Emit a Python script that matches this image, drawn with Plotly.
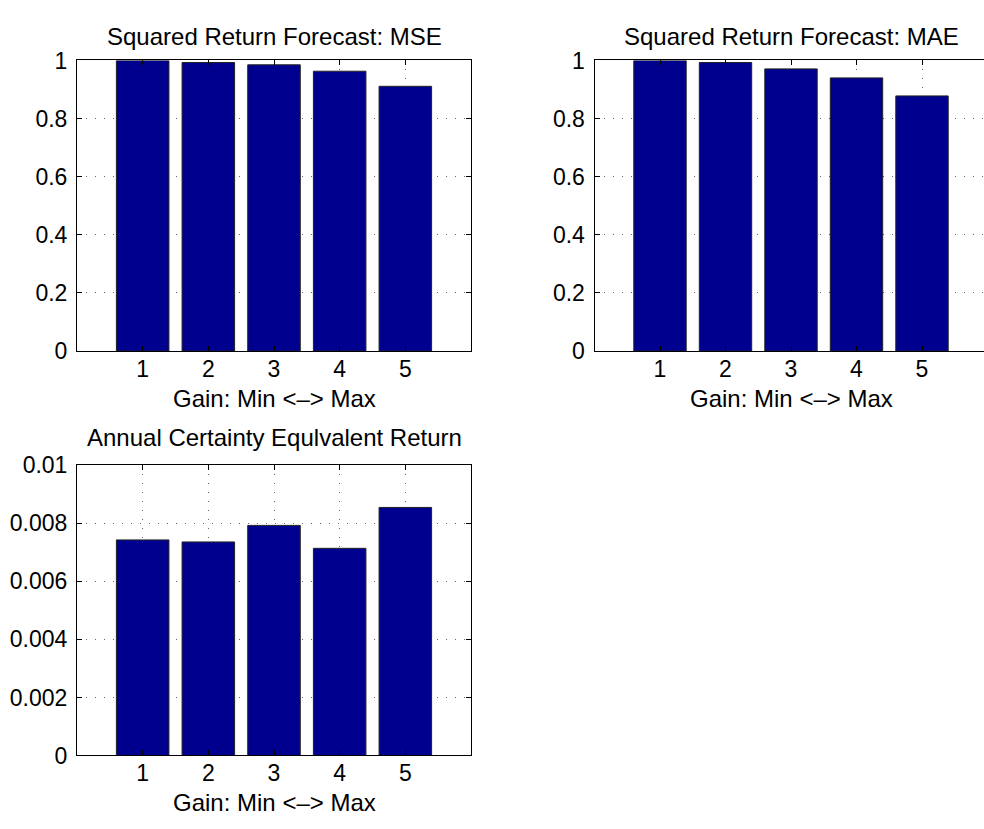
import plotly.graph_objects as go

# ---- data ----
gains = [1, 2, 3, 4, 5]
gain_ticks = ["1", "2", "3", "4", "5"]
mse = [1.000, 0.993, 0.985, 0.963, 0.911]
mae = [1.000, 0.993, 0.971, 0.940, 0.878]
ace = [0.00743, 0.00736, 0.00793, 0.00714, 0.00855]

titles = ["Squared Return Forecast: MSE",
          "Squared Return Forecast: MAE",
          "Annual Certainty Equlvalent Return"]
xlabel = "Gain: Min <\u2013> Max"

W, H = 984, 829
FONT = "Liberation Sans, Arial, Helvetica, sans-serif"
FS = 24
TFS = 23
BAR = "#00008F"


def fx(x):
    return x / W


def fy(y):
    return 1 - y / H


fig = go.Figure()
for i, vals in enumerate([mse, mae, ace]):
    sfx = "" if i == 0 else str(i + 1)
    fig.add_trace(go.Bar(
        x=gains, y=vals, width=0.8,
        marker=dict(color=BAR, line=dict(color="#222222", width=1)),
        xaxis="x" + sfx, yaxis="y" + sfx, showlegend=False,
    ))

common = dict(
    showline=True, linecolor="black", linewidth=1,
    ticks="inside", ticklen=5, tickcolor="black", tickwidth=1,
    showgrid=True, gridcolor="rgba(0,0,0,0.6)", griddash="1px,8px", gridwidth=1,
    zeroline=False, tickfont=dict(family=FONT, size=TFS, color="black"),
)

unit = 65.5  # px per x unit
left1, right1 = 77, 471
left2 = 594.5
top1, bot1 = 49, 349
top3, bot3 = 467, 766.5

xcommon = dict(common, tickmode="array", tickvals=gains, ticktext=gain_ticks,
               ticklabelstandoff=-3, mirror="ticks")

fig.update_layout(
    width=W, height=H,
    margin=dict(l=0, r=0, t=0, b=0),
    paper_bgcolor="white", plot_bgcolor="white",
    font=dict(family=FONT, size=FS, color="black"),
    xaxis=dict(xcommon, domain=[fx(left1), fx(right1)], range=[0, 6], anchor="y"),
    yaxis=dict(common, domain=[fy(bot1), fy(top1)], range=[0, 1], dtick=0.2,
               anchor="x", mirror="ticks", ticklabelstandoff=4),
    xaxis2=dict(xcommon, domain=[fx(left2), 1.0],
                range=[0, (W - left2) / unit], anchor="y2"),
    yaxis2=dict(common, domain=[fy(bot1), fy(top1)], range=[0, 1], dtick=0.2,
                anchor="x2", mirror=False, ticklabelstandoff=4),
    xaxis3=dict(xcommon, domain=[fx(left1), fx(right1)], range=[0, 6], anchor="y3"),
    yaxis3=dict(common, domain=[fy(bot3), fy(top3)], range=[0, 0.01], dtick=0.002,
                anchor="x3", mirror="ticks", ticklabelstandoff=4),
)

c1 = (left1 + right1) / 2
c2 = left2 + 3 * unit
ann = [
    (titles[0], c1, 24), (titles[1], c2, 24), (titles[2], c1, 438),
    (xlabel, c1, 398), (xlabel, c2, 398), (xlabel, c1, 815),
]
for txt, x, y in ann:
    fig.add_annotation(text=txt, x=fx(x), y=fy(y), xref="paper", yref="paper",
                       xanchor="center", yanchor="middle", showarrow=False,
                       font=dict(family=FONT, size=FS, color="black"))

fig.write_html("out.html")
